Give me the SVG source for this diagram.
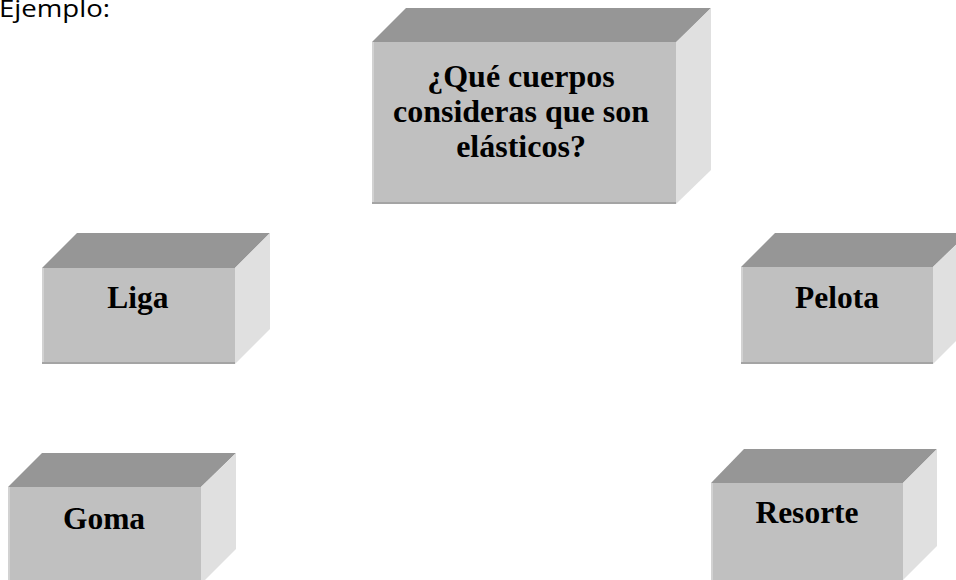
<svg xmlns="http://www.w3.org/2000/svg" width="956" height="580" viewBox="0 0 956 580">
<style>
.top{fill:#969696}
.side{fill:#e0e0e0}
.front{fill:#c0c0c0}
.hl{stroke:#d2d2d2;stroke-width:2;fill:none}
.sh{stroke:#a4a4a4;stroke-width:2;fill:none}
.lbl{font-family:"Liberation Serif","Times New Roman",serif;font-weight:bold;font-size:31.5px;fill:#000;text-anchor:middle}
.ej{font-family:"Open Sans","Liberation Sans",sans-serif;font-size:24px;fill:#000}
</style>
<rect width="956" height="580" fill="#fff"/>
<text class="ej" x="-1" y="17" textLength="111" lengthAdjust="spacingAndGlyphs">Ejemplo:</text>
<g id="connectors"/>
<g id="q">
<polygon class="top" points="372,42 406,8 711,8 677,42"/>
<polygon class="side" points="676,42 711,8 711,170 676,204"/>
<rect class="front" x="372" y="42" width="304" height="162"/>
<line class="hl" x1="373" y1="42" x2="373" y2="204"/>
<line class="sh" x1="372" y1="203" x2="676" y2="203"/>
<text class="lbl" style="font-size:32px" x="521" y="87">¿Qué cuerpos</text>
<text class="lbl" style="font-size:32px" x="521" y="122">consideras que son</text>
<text class="lbl" style="font-size:32px" x="521" y="157">elásticos?</text>
</g>
<g id="liga">
<polygon class="top" points="42,268 77,233 270,233 235,268"/>
<polygon class="side" points="235,268 270,233 270,329 235,364"/>
<rect class="front" x="42" y="268" width="193" height="96"/>
<line class="hl" x1="43" y1="268" x2="43" y2="364"/>
<line class="sh" x1="42" y1="363" x2="235" y2="363"/>
<text class="lbl" x="138" y="308">Liga</text>
</g>
<g id="pelota">
<polygon class="top" points="741,267 775,233 968,233 933,267"/>
<polygon class="side" points="933,267 968,233 968,329 933,364"/>
<rect class="front" x="741" y="267" width="192" height="97"/>
<line class="hl" x1="742" y1="267" x2="742" y2="364"/>
<line class="sh" x1="741" y1="363" x2="933" y2="363"/>
<text class="lbl" x="837" y="308">Pelota</text>
</g>
<g id="goma">
<polygon class="top" points="8,487 42,453 236,453 201,487"/>
<polygon class="side" points="201,487 236,453 236,549 201,584"/>
<rect class="front" x="8" y="487" width="193" height="100"/>
<line class="hl" x1="9" y1="487" x2="9" y2="587"/>
<text class="lbl" x="104" y="529">Goma</text>
</g>
<g id="resorte">
<polygon class="top" points="711,483 744,449 937,449 903,483"/>
<polygon class="side" points="903,483 937,449 937,546 903,580"/>
<rect class="front" x="711" y="483" width="192" height="100"/>
<line class="hl" x1="712" y1="483" x2="712" y2="583"/>
<text class="lbl" x="807" y="523">Resorte</text>
</g>
</svg>
